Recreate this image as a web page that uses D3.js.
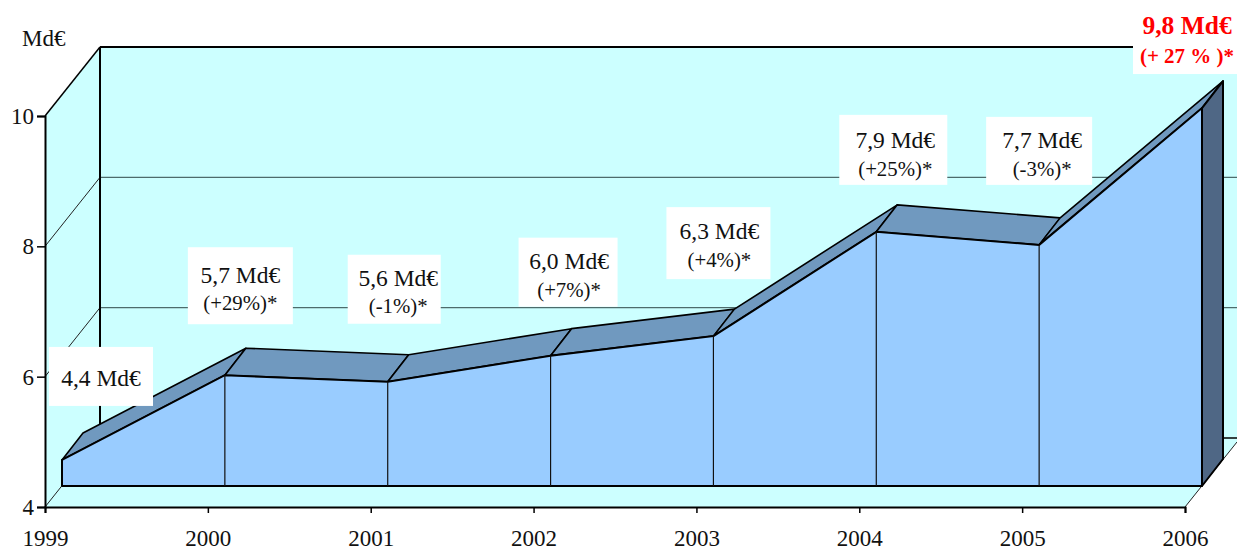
<!DOCTYPE html>
<html><head><meta charset="utf-8">
<script src="https://cdnjs.cloudflare.com/ajax/libs/d3/7.8.5/d3.min.js"></script>
<style>html,body{margin:0;padding:0;background:#fff}svg{display:block}text{font-family:"Liberation Serif",serif;fill:#111}</style>
</head><body><svg id="c" width="1237" height="552"></svg>
<script>
const years = ["1999","2000","2001","2002","2003","2004","2005","2006"];
const values = [4.4,5.7,5.6,6.0,6.3,7.9,7.7,9.8];
const mainLabels = ["4,4 Md€","5,7 Md€","5,6 Md€","6,0 Md€","6,3 Md€","7,9 Md€","7,7 Md€","9,8 Md€"];
const subLabels = ["","(+29%)*","(-1%)*","(+7%)*","(+4%)*","(+25%)*","(-3%)*","(+ 27 % )*"];
const yTicks = [4,6,8,10];
// label box layout relative to the data point: dx, dy, w, h, main baseline, sub baseline (from box top), text shift
const labelLayout = [
 [-13,-113,104,59,39,0,0],[-37,-128,105,77,36,63,0],[-40,-127,93,69,31,58,4],[-32,-118,99,69,31,59,1],
 [-47,-129,104,72,32,60,1],[-37,-117,108,70,33,61,2],[-53,-128,106,68,31,59,3],[-69,-99,104,65,25,54,2]];

const svg = d3.select("#c");
const x = d3.scaleLinear().domain([0,7]).range([45,1185]);
const y = d3.scaleLinear().domain([4,10]).range([507,116]);
const wall = [55,-69];      // depth of the chart box
const front = [17,-21];     // front face of the area inside the box
const top3 = [38,-48];      // rear edge of the area inside the box
const W='#CCFFFF',A='#99CCFF',T='#7099BF',S='#4F6785';
const line = d3.line();
const P = (i,v,o)=>[x(i)+o[0],y(v)+o[1]];
const poly=(pts,fill,sw=2)=>svg.append("path").attr("d",line(pts)+"Z").attr("fill",fill).attr("stroke","#000").attr("stroke-width",sw).attr("stroke-linejoin","round");
const seg=(a,b,sw,c="#000")=>svg.append("line").attr("x1",a[0]).attr("y1",a[1]).attr("x2",b[0]).attr("y2",b[1]).attr("stroke",c).attr("stroke-width",sw);

// walls
svg.append("path").attr("d",line([P(0,4,[0,0]),P(0,10,[0,0]),P(0,10,wall),[1237,P(0,10,wall)[1]],[1237,P(7,4,wall)[1]],P(7,4,[52,-65]),P(7,4,[0,0])])+"Z").attr("fill",W);
// gridlines on the back wall & side wall
[6,8].forEach(t=>{
  seg(P(0,t,wall),[1237,P(0,t,wall)[1]],1.3,"#4d6b6b");
  seg(P(0,t,[0,0]),P(0,t,wall),1,"#222");
});
seg(P(0,4,wall),[1237,P(0,4,wall)[1]],1.5);
seg(P(0,4,[0,0]),P(0,4,wall),1,"#222");
seg(P(7,4,[0,0]),P(7,4,[52,-65]),1,"#222");
seg(P(0,4,wall),P(0,10,wall),2);
seg(P(0,10,wall),[1237,P(0,10,wall)[1]],2);
seg(P(0,10,[0,0]),P(0,10,wall),1.5);

// area: top facets, side, front
values.forEach((v,i)=>{ if(i<7) poly([P(i,v,front),P(i+1,values[i+1],front),P(i+1,values[i+1],top3),P(i,v,top3)],T,1.6); });
poly([P(7,4,front),P(7,4,top3),P(7,values[7],top3),P(7,values[7],front)],S,2);
const frontPts=[P(0,4,front),...values.map((v,i)=>P(i,v,front)),P(7,4,front)];
poly(frontPts,A,2);
values.forEach((v,i)=>{ if(i>0&&i<7) seg(P(i,4,front),P(i,v,front),1.2,"#111"); });

// axes
const xAxis=svg.append("g").attr("transform",`translate(0,${y(4)})`).call(d3.axisBottom(x).tickValues(d3.range(8)).tickFormat(i=>years[i]).tickSize(6).tickPadding(17));
const yAxis=svg.append("g").attr("transform",`translate(${x(0)},0)`).call(d3.axisLeft(y).tickValues(yTicks).tickFormat(d3.format("d")).tickSize(8).tickPadding(3));
[xAxis,yAxis].forEach(g=>{g.selectAll("path").attr("stroke","#000").attr("stroke-width",2);g.selectAll("line").attr("stroke","#000").attr("stroke-width",1.5);g.selectAll("text").attr("font-size",23).attr("font-family","Liberation Serif").attr("fill","#111");});
svg.append("text").attr("x",22).attr("y",46).attr("font-size",23).text("Md€");

// value labels
values.forEach((v,i)=>{
  const [px,py]=P(i,v,front),[dx,dy,w,h,b1,b2,sh]=labelLayout[i];
  const lx=px+dx,ly=py+dy,last=i===7,col=last?"#FF0000":"#111";
  svg.append("rect").attr("x",lx).attr("y",ly).attr("width",w).attr("height",h).attr("fill","#fff");
  svg.append("text").attr("x",lx+w/2+sh).attr("y",ly+b1).attr("text-anchor","middle").attr("font-size",last?25.5:23.5).attr("font-weight",last?"bold":"normal").style("fill",col).text(mainLabels[i]);
  if(subLabels[i]) svg.append("text").attr("x",lx+w/2+sh).attr("y",ly+b2).attr("text-anchor","middle").attr("font-size",last?21:20.8).attr("font-weight",last?"bold":"normal").style("fill",col).text(subLabels[i]);
});
</script></body></html>
